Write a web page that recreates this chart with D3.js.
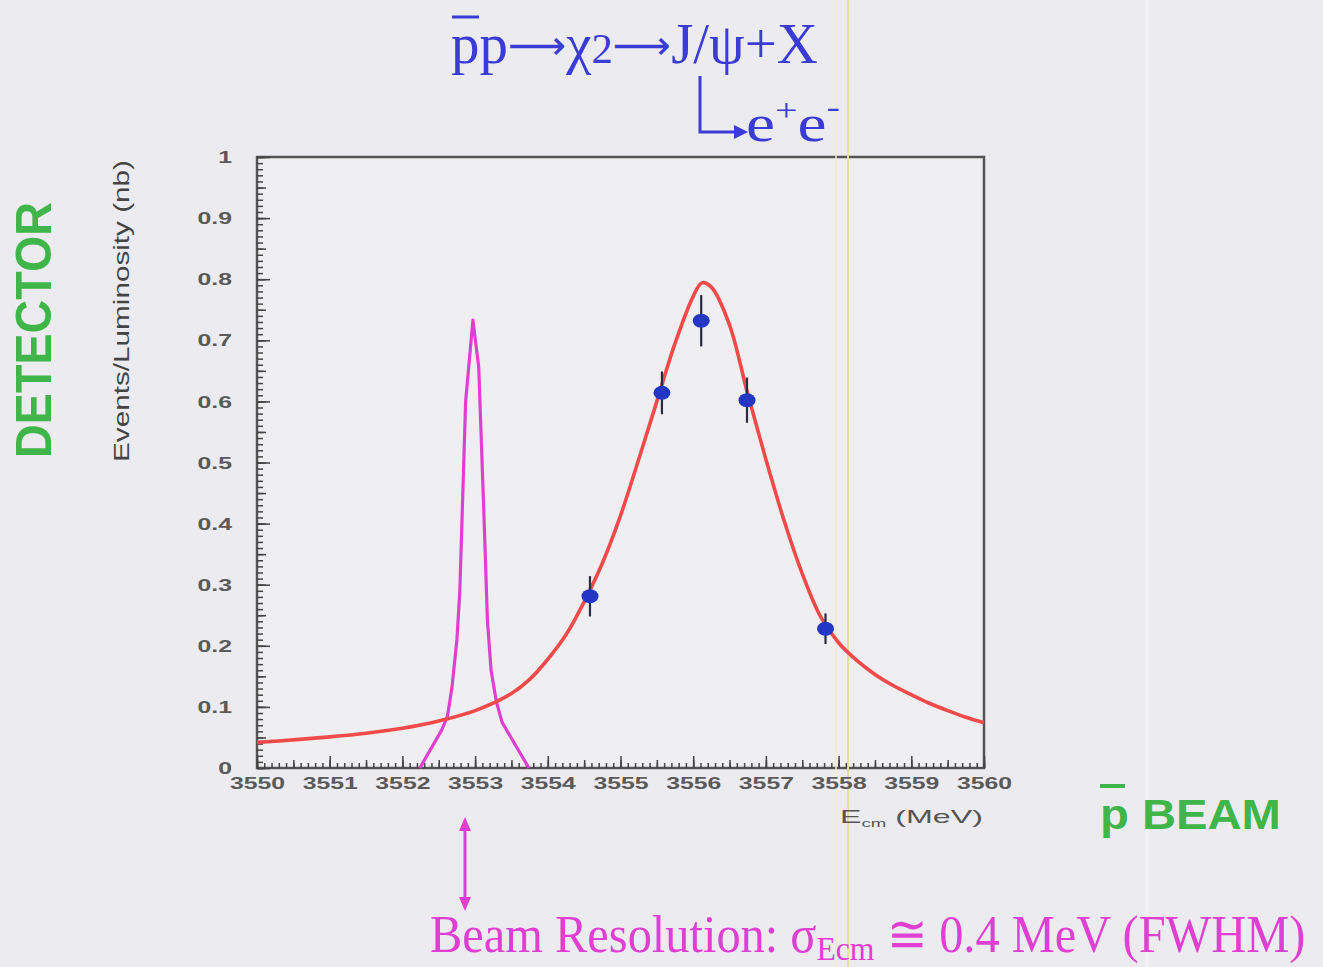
<!DOCTYPE html>
<html>
<head>
<meta charset="utf-8">
<script src="https://cdnjs.cloudflare.com/ajax/libs/d3/7.8.5/d3.min.js"></script>
<style>
body { margin: 0; background: #ececf0; }
svg { display: block; }
</style>
</head>
<body>
<div id="chart"></div>
<script>
// measured points (E_cm in MeV, events/luminosity in nb)
var dataE   = [3554.58, 3555.57, 3556.11, 3556.74, 3557.82];
var dataY   = [0.281, 0.614, 0.732, 0.602, 0.228];
var dataErr = [0.033, 0.035, 0.042, 0.037, 0.025];

// fitted resonance curve
var fitE = [3550.0, 3550.5, 3551.0, 3551.5, 3552.0, 3552.5, 3553.0, 3553.5, 3553.75, 3554.0,
            3554.25, 3554.5, 3554.75, 3555.0, 3555.25, 3555.5, 3555.75, 3556.0, 3556.12, 3556.25,
            3556.5, 3556.75, 3557.0, 3557.25, 3557.5, 3557.75, 3558.0, 3558.25, 3558.5, 3558.75,
            3559.0, 3559.25, 3559.5, 3559.75, 3560.0];
var fitY = [0.042, 0.046, 0.051, 0.057, 0.065, 0.077, 0.094, 0.122, 0.145, 0.178,
            0.218, 0.272, 0.335, 0.413, 0.505, 0.600, 0.695, 0.772, 0.794, 0.787,
            0.725, 0.612, 0.505, 0.405, 0.318, 0.248, 0.205, 0.176, 0.153, 0.135,
            0.120, 0.106, 0.094, 0.083, 0.074];

// beam resolution profile
var beamE = [3552.24, 3552.54, 3552.62, 3552.68, 3552.75, 3552.79, 3552.87, 3552.97, 3553.05,
             3553.12, 3553.17, 3553.22, 3553.29, 3553.37, 3553.74];
var beamY = [0.0, 0.062, 0.085, 0.13, 0.21, 0.29, 0.60, 0.733, 0.656,
             0.42, 0.24, 0.16, 0.11, 0.075, 0.0];

var xTicks = [3550, 3551, 3552, 3553, 3554, 3555, 3556, 3557, 3558, 3559, 3560];
var yTicks = [0, 0.1, 0.2, 0.3, 0.4, 0.5, 0.6, 0.7, 0.8, 0.9, 1];
var yLabels = ["0", "0.1", "0.2", "0.3", "0.4", "0.5", "0.6", "0.7", "0.8", "0.9", "1"];

var W = 1323, H = 967;
var blue = "#3b3bd6", magenta = "#e040d2", green = "#3fb54a", red = "#f04a4a";

var svg = d3.select("#chart").append("svg")
	.attr("width", W)
	.attr("height", H);

svg.append("rect").attr("width", W).attr("height", H).attr("fill", "#ececf0");

// faint slide artifacts
svg.append("line").attr("x1", 1147).attr("x2", 1147).attr("y1", 0).attr("y2", H)
	.attr("stroke", "#f3f3f6").attr("stroke-width", 3);

var x = d3.scaleLinear().domain([3550, 3560]).range([257, 984]);
var y = d3.scaleLinear().domain([0, 1]).range([768, 157]);

// plot frame
svg.append("rect")
	.attr("x", x(3550)).attr("y", y(1))
	.attr("width", x(3560) - x(3550)).attr("height", y(0) - y(1))
	.attr("fill", "#efeff2")
	.attr("stroke", "#555")
	.attr("stroke-width", 2.5);

svg.append("line").attr("x1", 836).attr("x2", 836).attr("y1", 0).attr("y2", H)
	.attr("stroke", "#efeccd").attr("stroke-width", 1.5);
svg.append("line").attr("x1", 848).attr("x2", 848).attr("y1", 0).attr("y2", H)
	.attr("stroke", "#e6df9a").attr("stroke-width", 2);

function fitWidth(sel, x0, x1) {
	var bb = sel.node().getBBox();
	var s = (x1 - x0) / bb.width;
	sel.attr("transform", "translate(" + x0 + ",0) scale(" + s + ",1) translate(" + (-bb.x) + ",0)");
}

// ticks point inward, ROOT style
function tickAxis(axis, g) {
	g.call(axis);
	g.select(".domain").remove();
	g.selectAll(".tick line").attr("stroke", "#444").attr("stroke-width", 1.5);
}
var gx = svg.append("g").attr("transform", "translate(0," + y(0) + ")");
tickAxis(d3.axisBottom(x).tickValues(x.ticks(100)).tickSize(-5).tickFormat(""), gx.append("g"));
tickAxis(d3.axisBottom(x).tickValues(x.ticks(20)).tickSize(-8).tickFormat(""), gx.append("g"));
var gxm = gx.append("g");
tickAxis(d3.axisBottom(x).tickValues(xTicks).tickSize(-12).tickPadding(0).tickFormat(d3.format("d")), gxm);
gxm.selectAll(".tick text")
	.attr("y", 0).attr("dy", null)
	.attr("transform", "translate(0,21) scale(1.55,1)")
	.style("font-family", "'Liberation Sans', Arial, sans-serif")
	.style("font-size", "16px")
	.style("font-weight", "bold")
	.attr("fill", "#5a5a5a");

var gy = svg.append("g").attr("transform", "translate(" + x(3550) + ",0)");
tickAxis(d3.axisLeft(y).tickValues(y.ticks(100)).tickSize(-6).tickFormat(""), gy.append("g"));
tickAxis(d3.axisLeft(y).tickValues(y.ticks(20)).tickSize(-9).tickFormat(""), gy.append("g"));
var gym = gy.append("g");
tickAxis(d3.axisLeft(y).tickValues(yTicks).tickSize(-13).tickPadding(0)
	.tickFormat(function(d, i) { return yLabels[i]; }), gym);
gym.selectAll(".tick text")
	.attr("x", 0).attr("dy", "0.35em")
	.attr("transform", "translate(-25,0) scale(1.55,1)")
	.style("font-family", "'Liberation Sans', Arial, sans-serif")
	.style("font-size", "16px")
	.style("font-weight", "bold")
	.attr("fill", "#5a5a5a");

// curves
var line = d3.line().x(function(d) { return x(d[0]); }).y(function(d) { return y(d[1]); });

svg.append("path")
	.datum(d3.zip(beamE, beamY))
	.attr("d", line.curve(d3.curveLinear))
	.attr("fill", "none")
	.attr("stroke", magenta)
	.attr("stroke-width", 3.2)
	.attr("stroke-linejoin", "round");

svg.append("path")
	.datum(d3.zip(fitE, fitY))
	.attr("d", line.curve(d3.curveCatmullRom.alpha(0.5)))
	.attr("fill", "none")
	.attr("stroke", red)
	.attr("stroke-width", 3.6);

// data points with error bars
var pts = svg.append("g").selectAll("g")
	.data(d3.range(dataE.length))
	.enter().append("g");
pts.append("line")
	.attr("x1", function(i) { return x(dataE[i]); })
	.attr("x2", function(i) { return x(dataE[i]); })
	.attr("y1", function(i) { return y(dataY[i] - dataErr[i]); })
	.attr("y2", function(i) { return y(dataY[i] + dataErr[i]); })
	.attr("stroke", "#2a2a40")
	.attr("stroke-width", 2.2);
pts.append("ellipse")
	.attr("cx", function(i) { return x(dataE[i]); })
	.attr("cy", function(i) { return y(dataY[i]); })
	.attr("rx", 8.5).attr("ry", 7)
	.attr("fill", "#2336c4");

// axis titles
var sans = "'Liberation Sans', Arial, sans-serif";
var serif = "'Liberation Serif', 'Times New Roman', serif";

svg.append("text")
	.attr("transform", "translate(129,311) rotate(-90)")
	.attr("text-anchor", "middle")
	.attr("textLength", 302).attr("lengthAdjust", "spacingAndGlyphs")
	.style("font-family", sans).style("font-size", "22px")
	.attr("fill", "#444")
	.text("Events/Luminosity (nb)");

var xt = svg.append("text")
	.attr("y", 823)
	.style("font-family", sans).style("font-size", "19px")
	.attr("fill", "#555");
xt.append("tspan").text("E");
xt.append("tspan").attr("dy", 4).style("font-size", "11px").text("cm");
xt.append("tspan").attr("dy", -4).text(" (MeV)");
fitWidth(xt, 840, 983);

// DETECTOR and pbar BEAM labels
svg.append("text")
	.attr("transform", "translate(51,330) rotate(-90)")
	.attr("text-anchor", "middle")
	.attr("textLength", 256).attr("lengthAdjust", "spacingAndGlyphs")
	.style("font-family", sans).style("font-size", "50px").style("font-weight", "bold")
	.attr("fill", green)
	.text("DETECTOR");

var pb = svg.append("text")
	.attr("y", 829)
	.style("font-family", sans).style("font-size", "42px").style("font-weight", "bold")
	.attr("fill", green)
	.text("p BEAM");
fitWidth(pb, 1100, 1281);
svg.append("line").attr("x1", 1100).attr("x2", 1125).attr("y1", 786).attr("y2", 786)
	.attr("stroke", green).attr("stroke-width", 4);

// reaction title
var title = svg.append("text")
	.attr("y", 63)
	.style("font-family", serif).style("font-size", "56px")
	.attr("fill", blue);
title.append("tspan").text("pp");
title.append("tspan").style("font-family", "'DejaVu Sans', sans-serif").style("font-size", "40px").attr("dy", -4).text("\u27F6");
title.append("tspan").attr("dy", 4).text("\u03C7");
title.append("tspan").style("font-size", "42px").text("2");
title.append("tspan").style("font-family", "'DejaVu Sans', sans-serif").style("font-size", "40px").attr("dy", -4).text("\u27F6");
title.append("tspan").attr("dy", 4).text("J/\u03C8+X");
fitWidth(title, 451, 818);
svg.append("line").attr("x1", 452).attr("x2", 479).attr("y1", 17).attr("y2", 17)
	.attr("stroke", blue).attr("stroke-width", 3);

svg.append("path")
	.attr("d", "M700,76V132H736")
	.attr("fill", "none").attr("stroke", blue).attr("stroke-width", 3);
svg.append("path")
	.attr("d", "M748,132L734,125L734,139Z")
	.attr("fill", blue);

var ee = svg.append("text")
	.attr("y", 141)
	.style("font-family", serif).style("font-size", "52px")
	.attr("fill", blue);
ee.append("tspan").text("e");
ee.append("tspan").attr("dy", -20).style("font-size", "32px").text("+");
ee.append("tspan").attr("dy", 20).text("e");
ee.append("tspan").attr("dy", -24).style("font-size", "32px").text("-");
fitWidth(ee, 746, 840);

// beam resolution note
svg.append("line").attr("x1", 465).attr("x2", 465).attr("y1", 828).attr("y2", 900)
	.attr("stroke", magenta).attr("stroke-width", 3);
svg.append("path").attr("d", "M465,817L459,831L471,831Z").attr("fill", magenta);
svg.append("path").attr("d", "M465,911L459,897L471,897Z").attr("fill", magenta);

var note = svg.append("text")
	.attr("y", 952)
	.style("font-family", serif).style("font-size", "52px")
	.attr("fill", magenta);
note.append("tspan").text("Beam Resolution:  \u03C3");
note.append("tspan").attr("dy", 8).style("font-size", "34px").text("Ecm");
note.append("tspan").attr("dy", -8).text(" \u2245 0.4 MeV (FWHM)");
fitWidth(note, 430, 1306);
</script>
</body>
</html>
